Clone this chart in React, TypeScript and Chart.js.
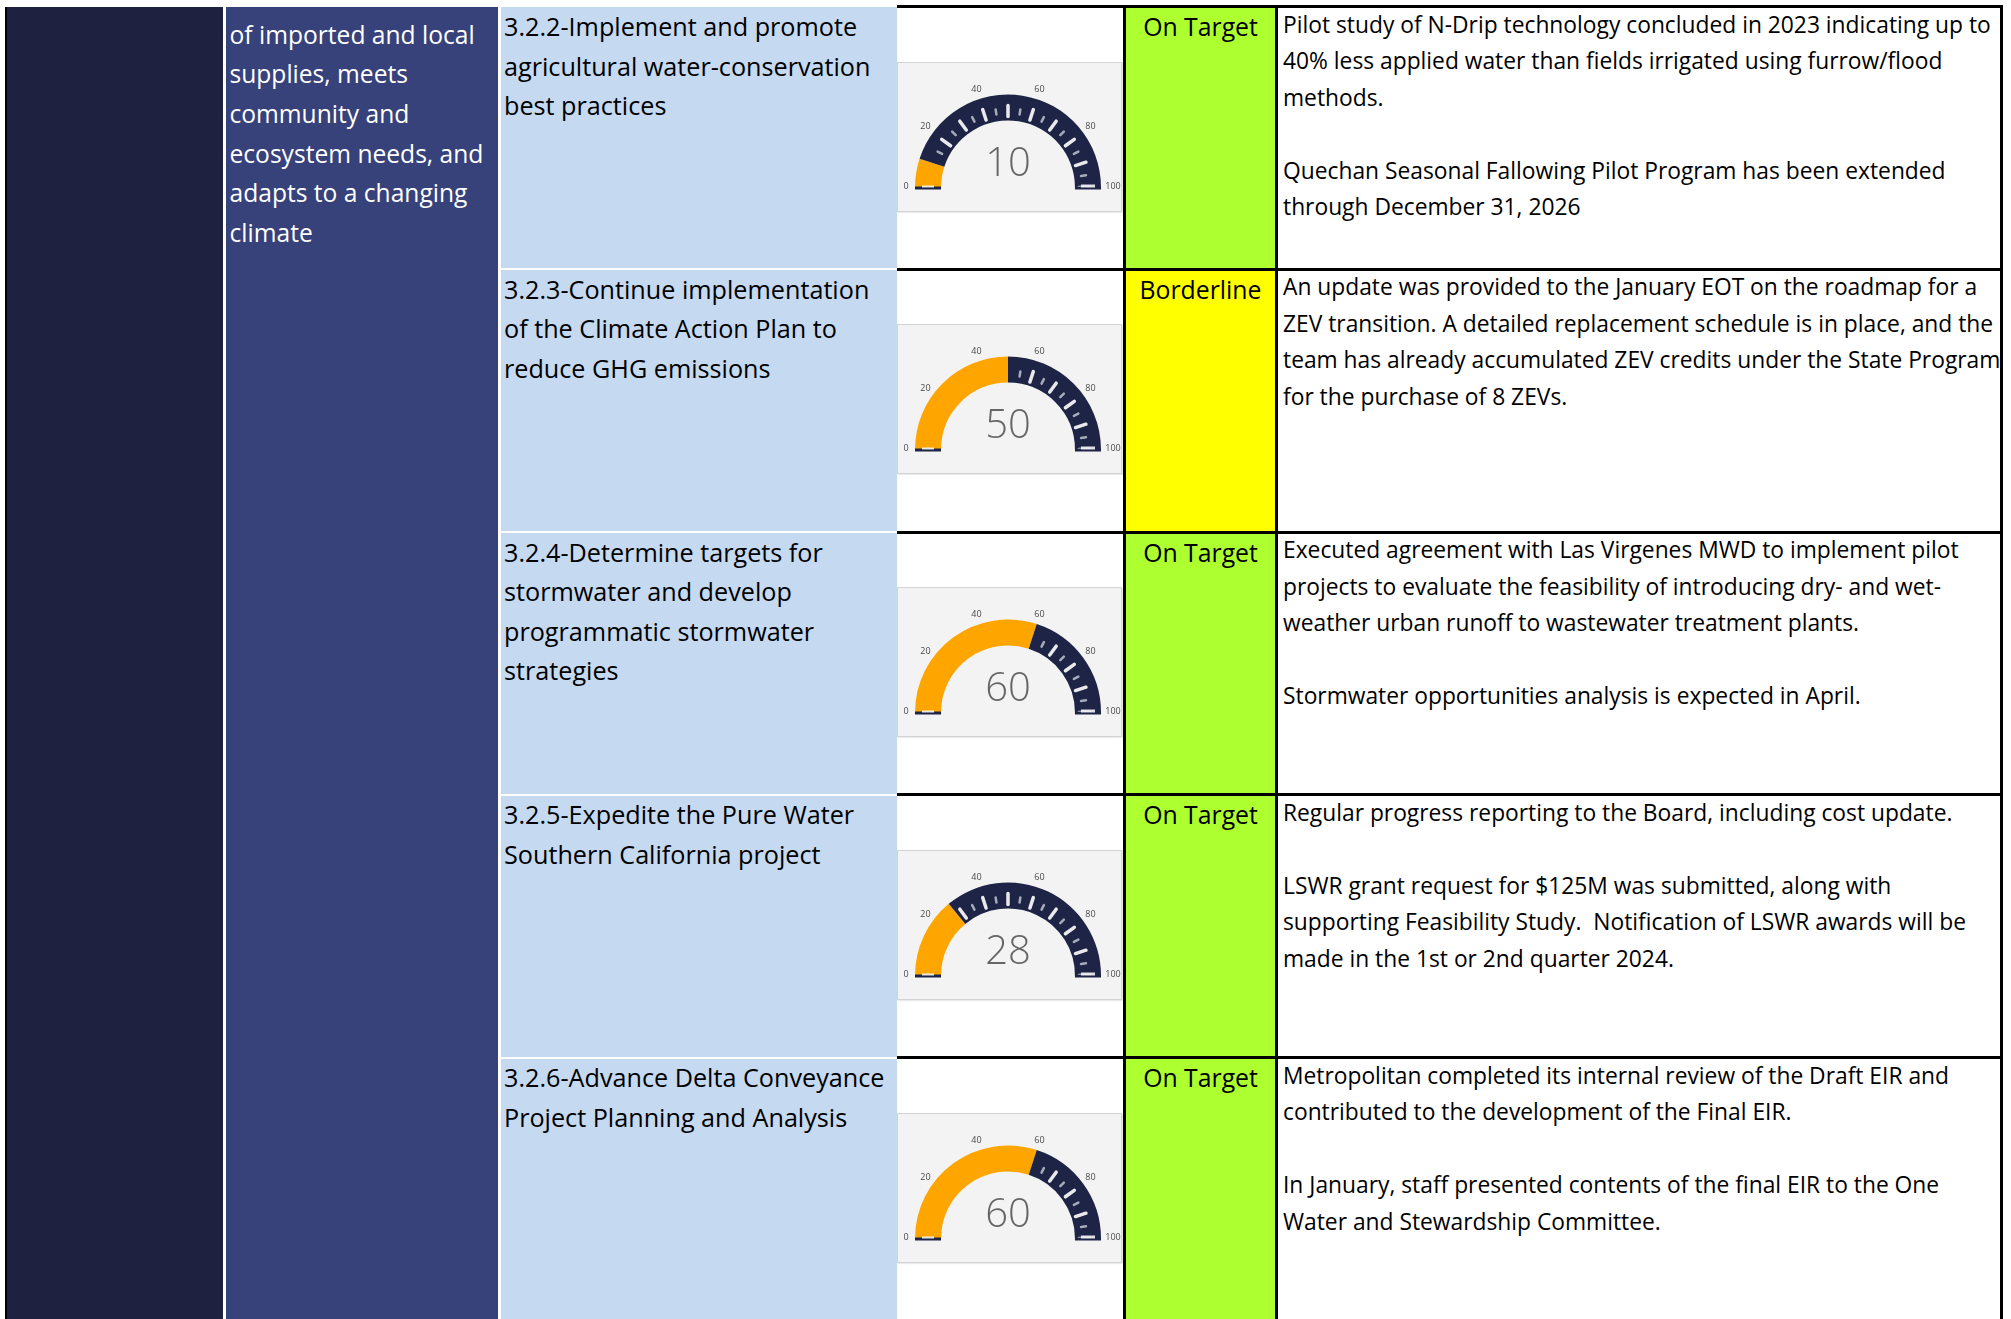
import React, { useEffect, useRef } from "react";
import { Chart, registerables } from "chart.js";

Chart.register(...registerables);

// ---------------- data ----------------
const objectiveLines = [
  "of imported and local",
  "supplies, meets",
  "community and",
  "ecosystem needs, and",
  "adapts to a changing",
  "climate",
];

const strategyLines = [
  ["3.2.2-Implement and promote", "agricultural water-conservation", "best practices"],
  ["3.2.3-Continue implementation", "of the Climate Action Plan to", "reduce GHG emissions"],
  ["3.2.4-Determine targets for", "stormwater and develop", "programmatic stormwater", "strategies"],
  ["3.2.5-Expedite the Pure Water", "Southern California project"],
  ["3.2.6-Advance Delta Conveyance", "Project Planning and Analysis"],
];

const progressValues = [10, 50, 60, 28, 60];

const statusLabels = ["On Target", "Borderline", "On Target", "On Target", "On Target"];

const commentLines = [
  [
    "Pilot study of N-Drip technology concluded in 2023 indicating up to",
    "40% less applied water than fields irrigated using furrow/flood",
    "methods.",
    "",
    "Quechan Seasonal Fallowing Pilot Program has been extended",
    "through December 31, 2026",
  ],
  [
    "An update was provided to the January EOT on the roadmap for a",
    "ZEV transition. A detailed replacement schedule is in place, and the",
    "team has already accumulated ZEV credits under the State Program",
    "for the purchase of 8 ZEVs.",
  ],
  [
    "Executed agreement with Las Virgenes MWD to implement pilot",
    "projects to evaluate the feasibility of introducing dry- and wet-",
    "weather urban runoff to wastewater treatment plants.",
    "",
    "Stormwater opportunities analysis is expected in April.",
  ],
  [
    "Regular progress reporting to the Board, including cost update.",
    "",
    "LSWR grant request for $125M was submitted, along with",
    "supporting Feasibility Study.  Notification of LSWR awards will be",
    "made in the 1st or 2nd quarter 2024.",
  ],
  [
    "Metropolitan completed its internal review of the Draft EIR and",
    "contributed to the development of the Final EIR.",
    "",
    "In January, staff presented contents of the final EIR to the One",
    "Water and Stewardship Committee.",
  ],
];

const gaugeTickLabels = [0, 20, 40, 60, 80, 100];

// ---------------- styles ----------------
const FONT = "'Open Sans', 'Noto Sans', sans-serif";
const NAVY_DARK = "#1e2140";
const NAVY = "#37417a";
const LIGHT_BLUE = "#c5d9f1";
const STATUS_COLORS: Record<string, string> = {
  "On Target": "#adff2f",
  Borderline: "#ffff00",
};
const GAUGE_FILL = "#ffa500";
const GAUGE_TRACK = "#1e2446";

const ROW_PERIOD = 262.75;
const lineCenter = (i: number) => 6.5 + i * ROW_PERIOD;

function gaugeDecor(value: number) {
  return {
    id: "gaugeDecor",
    afterDatasetsDraw(chart: any) {
      const arc = chart.getDatasetMeta(0).data[0];
      if (!arc) return;
      const { x, y, outerRadius: ro, innerRadius: ri } = arc.getProps(
        ["x", "y", "outerRadius", "innerRadius"],
        true
      );
      const ctx: CanvasRenderingContext2D = chart.ctx;
      ctx.save();
      ctx.lineCap = "round";
      // tick marks on the unfilled part of the track
      for (let v = 0; v <= 100; v += 5) {
        if (v <= value + 0.5) continue;
        const a = Math.PI + (v / 100) * Math.PI;
        const major = v % 10 === 0;
        const r1 = major ? ri + 4 : ri + 7;
        const r2 = major ? ri + 15 : ri + 12;
        ctx.strokeStyle = major ? "rgba(245,245,245,0.95)" : "rgba(200,205,215,0.8)";
        ctx.lineWidth = major ? 3.5 : 2.5;
        ctx.beginPath();
        ctx.moveTo(x + r1 * Math.cos(a), y + r1 * Math.sin(a));
        ctx.lineTo(x + r2 * Math.cos(a), y + r2 * Math.sin(a));
        ctx.stroke();
      }
      // end caps at the base
      ctx.fillStyle = GAUGE_TRACK;
      ctx.fillRect(x - ro, y - 1, ro - ri, 3);
      ctx.fillRect(x + ri, y - 1, ro - ri, 3);
      ctx.fillStyle = "rgba(255,255,255,0.85)";
      ctx.fillRect(x - ro + 7, y - 2, ro - ri - 14, 2);
      ctx.fillRect(x + ri + 6, y - 3, ro - ri - 12, 3);
      // scale labels
      ctx.fillStyle = "#4a4a4a";
      ctx.font = `9px ${FONT}`;
      ctx.textAlign = "center";
      ctx.textBaseline = "middle";
      gaugeTickLabels.forEach((t) => {
        const a = Math.PI + (t / 100) * Math.PI;
        const r = ro + (t === 100 ? 12 : 9);
        ctx.fillText(String(t), x + r * Math.cos(a), y + r * Math.sin(a) - 1);
      });
      // value
      ctx.fillStyle = "#666666";
      ctx.font = `300 40px ${FONT}`;
      ctx.fillText(String(value), x, y - 23);
      ctx.restore();
    },
  };
}

function Gauge({ value }: { value: number }) {
  const ref = useRef<HTMLCanvasElement | null>(null);
  useEffect(() => {
    if (!ref.current) return;
    const chart = new Chart(ref.current, {
      type: "doughnut",
      data: {
        labels: ["Progress", "Remaining"],
        datasets: [
          {
            data: [value, 100 - value],
            backgroundColor: [GAUGE_FILL, GAUGE_TRACK],
            borderWidth: 0,
          },
        ],
      },
      options: {
        animation: false,
        responsive: false,
        rotation: -90,
        circumference: 180,
        cutout: "72%",
        events: [],
        layout: { padding: { left: 17, right: 20, top: 31, bottom: 23 } },
        plugins: { legend: { display: false }, tooltip: { enabled: false } },
      } as any,
      plugins: [gaugeDecor(value) as any],
    });
    return () => chart.destroy();
  }, [value]);
  return (
    <canvas
      ref={ref}
      width={223}
      height={148}
      style={{ display: "block", width: 223, height: 148 }}
    />
  );
}

function abs(left: number, top: number, width: number, height: number, extra: React.CSSProperties = {}): React.CSSProperties {
  return { position: "absolute", left, top, width, height, ...extra };
}

export default function App() {
  useEffect(() => {
    document.body.style.margin = "0";
  }, []);

  const H = 1319;
  const rows = progressValues.map((_, i) => i);

  return (
    <div
      style={{
        position: "absolute",
        left: 0,
        top: 0,
        width: 2011,
        height: H,
        overflow: "hidden",
        background: "#ffffff",
        fontFamily: FONT,
      }}
    >
      {/* left black border */}
      <div style={abs(5, 7, 2, H, { background: "#000" })} />
      {/* column 1 */}
      <div style={abs(7, 7, 216, H, { background: NAVY_DARK })} />
      {/* column 2 */}
      <div style={abs(226, 7, 272, H, { background: NAVY })} />
      <div
        style={abs(229.5, 14.5, 268, 300, {
          color: "#fff",
          fontSize: 24.6,
          lineHeight: "39.7px",
          whiteSpace: "pre",
        })}
      >
        {objectiveLines.join("\n")}
      </div>
      {/* column 3 */}
      <div style={abs(501, 7, 396, H, { background: LIGHT_BLUE })} />
      {rows.slice(1).map((i) => (
        <div key={"g" + i} style={abs(501, Math.round(lineCenter(i)) - 1, 396, 2, { background: "#fff" })} />
      ))}

      {rows.map((i) => {
        const L = lineCenter(i);
        const next = i + 1 < rows.length ? lineCenter(i + 1) : H + 10;
        return (
          <React.Fragment key={i}>
            {/* strategy text */}
            <div
              style={abs(504, L + 0.5, 392, 250, {
                color: "#000",
                fontSize: 25.2,
                lineHeight: "39.5px",
                whiteSpace: "pre",
              })}
            >
              {strategyLines[i].join("\n")}
            </div>
            {/* gauge box */}
            <div
              style={abs(897, L + 55, 225, 150, {
                background: "#f3f3f3",
                border: "1px solid #d3d3d3",
                boxSizing: "border-box",
                boxShadow: "1px 1px 1px rgba(0,0,0,0.08)",
              })}
            >
              <Gauge value={progressValues[i]} />
            </div>
            {/* status cell */}
            <div
              style={abs(1126, L + 1.5, 149, next - L - 3, {
                background: STATUS_COLORS[statusLabels[i]],
              })}
            />
            <div
              style={abs(1126, L + 0.5, 149, 40, {
                color: "#000",
                fontSize: 24.8,
                lineHeight: "39px",
                textAlign: "center",
                whiteSpace: "nowrap",
              })}
            >
              {statusLabels[i]}
            </div>
            {/* comment text */}
            <div
              style={abs(1283, L, 716, 255, {
                color: "#000",
                fontSize: 22.8,
                lineHeight: "36.5px",
                whiteSpace: "pre",
              })}
            >
              {commentLines[i].join("\n")}
            </div>
            {/* horizontal rule */}
            <div style={abs(897, L - 1.5, 1106, 3, { background: "#000" })} />
          </React.Fragment>
        );
      })}

      {/* vertical rules */}
      <div style={abs(1123, 5, 3, H, { background: "#000" })} />
      <div style={abs(1275, 5, 3, H, { background: "#000" })} />
      <div style={abs(2000, 5, 3, H, { background: "#000" })} />
    </div>
  );
}
